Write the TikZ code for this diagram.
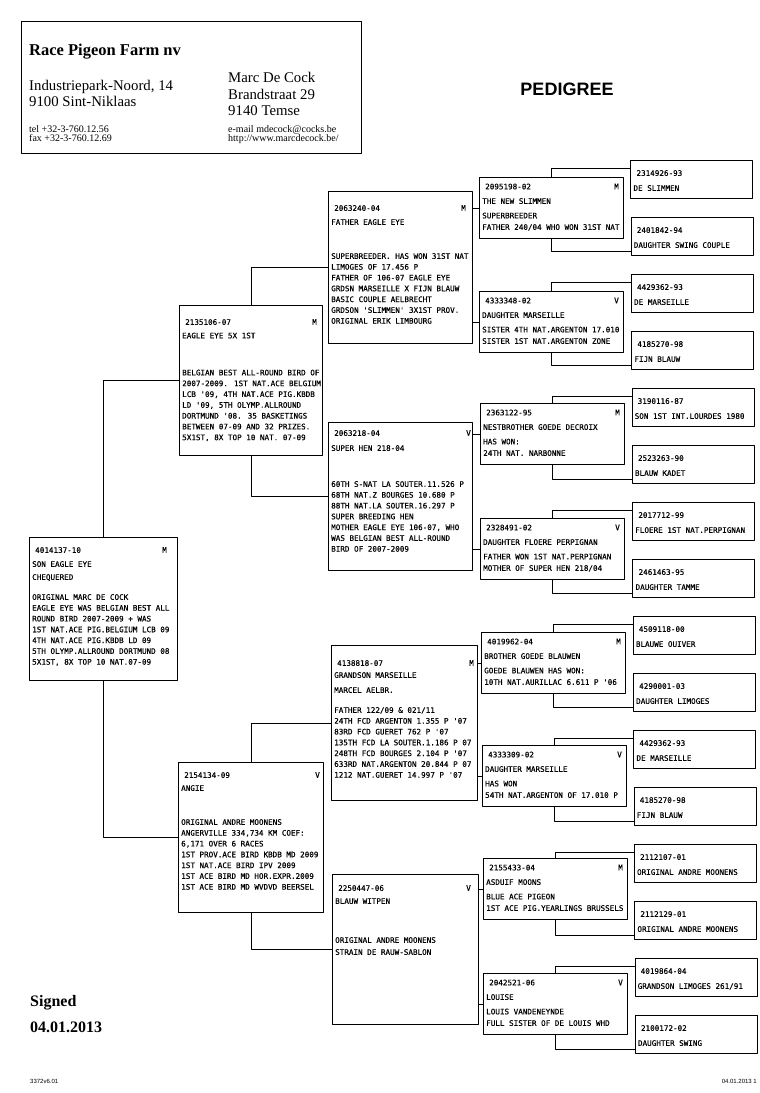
\documentclass[tikz,border=0pt]{standalone}
\usepackage{fontspec}
\setmainfont{Liberation Serif}
\setsansfont{Liberation Sans}
\newfontfamily\pedfont[FakeBold=0.4]{DejaVu Sans Mono}
\tikzset{
  bird/.style={draw, line width=1pt, anchor=north west, inner sep=0pt},
  birdtxt/.style={anchor=north west, inner sep=0pt, align=left, font=\pedfont\fontsize{7.6}{10.8}\selectfont},
  sex/.style={birdtxt, anchor=north east},
  link/.style={line width=1pt},
  addr/.style={anchor=base west, inner sep=0pt, font=\fontsize{14.8}{16}\selectfont},
  small/.style={anchor=base west, inner sep=0pt, font=\fontsize{10}{10}\selectfont},
}
\begin{document}
\begin{tikzpicture}[x=1pt, y=-1pt, line join=round, line cap=round]
\useasboundingbox (0,0) rectangle (760,1093);
% header
\node[bird, minimum width=340, minimum height=132] (head) at (21,21) {};
\node[anchor=base west, inner sep=0pt, font=\bfseries\fontsize{16.5}{18}\selectfont] (farm) at (29,55) {Race Pigeon Farm nv};
\node[addr] (street) at (29,90) {Industriepark-Noord, 14};
\node[addr] (city) at (29,106) {9100 Sint-Niklaas};
\node[addr] (owner) at (228,82) {Marc De Cock};
\node[addr] (street2) at (228,99) {Brandstraat 29};
\node[addr] (city2) at (228,115) {9140 Temse};
\node[small] (tel) at (29,132) {tel +32-3-760.12.56};
\node[small] (fax) at (29,141) {fax +32-3-760.12.69};
\node[small] (mail) at (228,132) {e-mail mdecock@cocks.be};
\node[small] (web) at (228,141) {http://www.marcdecock.be/};
\node[font=\sffamily\bfseries\fontsize{18}{20}\selectfont] (title) at (567,89) {PEDIGREE};

% generation 1
\node[bird, minimum width=148, minimum height=143] (son) at (29,537) {};
\node[birdtxt] (son-t) at ([shift={(3,10)}]son.north west) {\hspace*{3pt}4014137-10\\[3.2pt]SON EAGLE EYE\\[2.2pt]CHEQUERED\\[9.2pt]ORIGINAL MARC DE COCK\\EAGLE EYE WAS BELGIAN BEST ALL\\ROUND BIRD 2007-2009 + WAS\\1ST NAT.ACE PIG.BELGIUM LCB 09\\4TH NAT.ACE PIG.KBDB LD 09\\5TH OLYMP.ALLROUND DORTMUND 08\\5X1ST, 8X TOP 10 NAT.07-09};
\node[sex] (son-s) at ([shift={(-11,10)}]son.north east) {M};

% generation 2
\node[bird, minimum width=143, minimum height=150] (sire) at (179,305) {};
\node[birdtxt] (sire-t) at ([shift={(3,14)}]sire.north west) {\hspace*{3pt}2135106-07\\[2.7pt]EAGLE EYE 5X 1ST\\[26.2pt]BELGIAN BEST ALL-ROUND BIRD OF\\2007-2009. 1ST NAT.ACE BELGIUM\\LCB '09, 4TH NAT.ACE PIG.KBDB\\LD '09, 5TH OLYMP.ALLROUND\\DORTMUND '08. 35 BASKETINGS\\BETWEEN 07-09 AND 32 PRIZES.\\5X1ST, 8X TOP 10 NAT. 07-09};
\node[sex] (sire-s) at ([shift={(-6,14)}]sire.north east) {M};
\node[bird, minimum width=145, minimum height=150] (dam) at (178,762) {};
\node[birdtxt] (dam-t) at ([shift={(3,10)}]dam.north west) {\hspace*{3pt}2154134-09\\[2.2pt]ANGIE\\[23.2pt]ORIGINAL ANDRE MOONENS\\ANGERVILLE 334,734 KM COEF:\\6,171 OVER 6 RACES\\1ST PROV.ACE BIRD KBDB MD 2009\\1ST NAT.ACE BIRD IPV 2009\\1ST ACE BIRD MD HOR.EXPR.2009\\1ST ACE BIRD MD WVDVD BEERSEL};
\node[sex] (dam-s) at ([shift={(-4,10)}]dam.north east) {V};

% generation 3
\node[bird, minimum width=144, minimum height=152] (ss) at (328,191) {};
\node[birdtxt] (ss-t) at ([shift={(3,14)}]ss.north west) {\hspace*{3pt}2063240-04\\[3.2pt]FATHER EAGLE EYE\\[23.2pt]SUPERBREEDER. HAS WON 31ST NAT\\LIMOGES OF 17.456 P\\FATHER OF 106-07 EAGLE EYE\\GRDSN MARSEILLE X FIJN BLAUW\\BASIC COUPLE AELBRECHT\\GRDSON 'SLIMMEN' 3X1ST PROV.\\ORIGINAL ERIK LIMBOURG};
\node[sex] (ss-s) at ([shift={(-7,14)}]ss.north east) {M};
\node[bird, minimum width=144, minimum height=148] (sd) at (328,422) {};
\node[birdtxt] (sd-t) at ([shift={(3,8)}]sd.north west) {\hspace*{3pt}2063218-04\\[4.2pt]SUPER HEN 218-04\\[25.2pt]60TH S-NAT LA SOUTER.11.526 P\\68TH NAT.Z BOURGES 10.680 P\\88TH NAT.LA SOUTER.16.297 P\\SUPER BREEDING HEN\\MOTHER EAGLE EYE 106-07, WHO\\WAS BELGIAN BEST ALL-ROUND\\BIRD OF 2007-2009};
\node[sex] (sd-s) at ([shift={(-2,8)}]sd.north east) {V};
\node[bird, minimum width=146, minimum height=155] (ds) at (331,645) {};
\node[birdtxt] (ds-t) at ([shift={(3,15)}]ds.north west) {\hspace*{3pt}4138818-07\\[1.2pt]GRANDSON MARSEILLE\\[4.2pt]MARCEL AELBR.\\[9.2pt]FATHER 122/09 \& 021/11\\24TH FCD ARGENTON 1.355 P '07\\83RD FCD GUERET 762 P '07\\135TH FCD LA SOUTER.1.186 P 07\\248TH FCD BOURGES 2.104 P '07\\633RD NAT.ARGENTON 20.844 P 07\\1212 NAT.GUERET 14.997 P '07};
\node[sex] (ds-s) at ([shift={(-4,15)}]ds.north east) {M};
\node[bird, minimum width=146, minimum height=150] (dd) at (332,874) {};
\node[birdtxt] (dd-t) at ([shift={(3,11)}]dd.north west) {\hspace*{3pt}2250447-06\\[2.2pt]BLAUW WITPEN\\[28.2pt]ORIGINAL ANDRE MOONENS\\[1.2pt]STRAIN DE RAUW-SABLON};
\node[sex] (dd-s) at ([shift={(-8,11)}]dd.north east) {V};

% generation 4
\foreach \n/\x/\y/\num/\g/\name/\ra/\rb in {
  d1/479/177/2095198-02/M/THE NEW SLIMMEN/SUPERBREEDER/FATHER 240{/}04 WHO WON 31ST NAT,
  d2/479/291/4333348-02/V/DAUGHTER MARSEILLE/SISTER 4TH NAT.ARGENTON 17.010/SISTER 1ST NAT.ARGENTON ZONE,
  d3/480/403/2363122-95/M/NESTBROTHER GOEDE DECROIX/HAS WON:/24TH NAT. NARBONNE,
  d4/480/518/2328491-02/V/DAUGHTER FLOERE PERPIGNAN/FATHER WON 1ST NAT.PERPIGNAN/MOTHER OF SUPER HEN 218{/}04,
  d5/481/632/4019962-04/M/BROTHER GOEDE BLAUWEN/GOEDE BLAUWEN HAS WON:/10TH NAT.AURILLAC 6.611 P '06,
  d6/482/745/4333309-02/V/DAUGHTER MARSEILLE/HAS WON/54TH NAT.ARGENTON OF 17.010 P,
  d7/483/858/2155433-04/M/ASDUIF MOONS/BLUE ACE PIGEON/1ST ACE PIG.YEARLINGS BRUSSELS,
  d8/483/973/2042521-06/V/LOUISE/LOUIS VANDENEYNDE/FULL SISTER OF DE LOUIS WHD}{
  \node[bird, minimum width=144, minimum height=61] (\n) at (\x,\y) {};
  \node[birdtxt] (\n-t) at ([shift={(3,6.5)}]\n.north west) {\hspace*{3pt}\num\\[3.7pt]\name\\[3.7pt]\ra\\[0.7pt]\rb};
  \node[sex] (\n-s) at ([shift={(-5,6.5)}]\n.north east) {\g};
}

% generation 5
\foreach \i/\num/\name in {1/2314926-93/DE SLIMMEN, 2/2401842-94/DAUGHTER SWING COUPLE,
  3/4429362-93/DE MARSEILLE, 4/4185270-98/FIJN BLAUW, 5/3190116-87/SON 1ST INT.LOURDES 1980,
  6/2523263-90/BLAUW KADET, 7/2017712-99/FLOERE 1ST NAT.PERPIGNAN, 8/2461463-95/DAUGHTER TAMME,
  9/4509118-00/BLAUWE OUIVER, 10/4290001-03/DAUGHTER LIMOGES, 11/4429362-93/DE MARSEILLE,
  12/4185270-98/FIJN BLAUW, 13/2112107-01/ORIGINAL ANDRE MOONENS, 14/2112129-01/ORIGINAL ANDRE MOONENS,
  15/4019864-04/GRANDSON LIMOGES 261{/}91, 16/2100172-02/DAUGHTER SWING}{
  \node[bird, minimum width=122, minimum height=38] (e\i) at ({630+0.3*\i},{103+57*\i}) {};
  \node[birdtxt] (e\i-t) at ([shift={(3,10)}]e\i.north west) {\hspace*{3pt}\num\\[4.2pt]\name};
}

% connectors
\draw[link] (son.north) |- (sire.west);
\draw[link] (son.south) |- (dam.west);
\draw[link] (sire.north) |- (ss.west);
\draw[link] (sire.south) |- (sd.west);
\draw[link] (dam.north) |- (ds.west);
\draw[link] (dam.south) |- (dd.west);
\foreach \c/\a/\b in {ss/d1/d2, sd/d3/d4, ds/d5/d6, dd/d7/d8}{
  \draw[link] (\c.east |- \a.west) -- (\a.west);
  \draw[link] (\c.east |- \b.west) -- (\b.west);
}
\foreach \d/\a/\b in {d1/e1/e2, d2/e3/e4, d3/e5/e6, d4/e7/e8, d5/e9/e10, d6/e11/e12, d7/e13/e14, d8/e15/e16}{
  \draw[link] (\d.north) |- ([yshift=-8pt]\a.north west);
  \draw[link] (\d.south) |- ([yshift=5pt]\b.south west);
}

% signature and footer
\node[anchor=base west, inner sep=0pt, font=\bfseries\fontsize{16}{18}\selectfont] (signed) at (30,1006) {Signed};
\node[anchor=base west, inner sep=0pt, font=\bfseries\fontsize{16}{18}\selectfont] (date) at (30,1032) {04.01.2013};
\node[anchor=base west, inner sep=0pt, font=\sffamily\fontsize{6}{7}\selectfont] (code) at (30,1083) {3372v6.01};
\node[anchor=base east, inner sep=0pt, font=\sffamily\fontsize{6}{7}\selectfont] (page) at (757,1083) {04.01.2013 1};
\end{tikzpicture}
\end{document}
